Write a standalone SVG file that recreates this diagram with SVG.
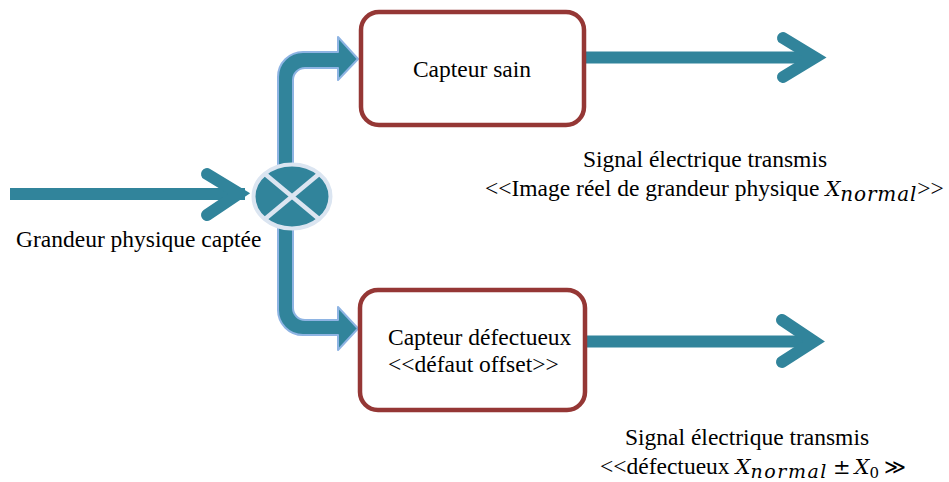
<svg xmlns="http://www.w3.org/2000/svg" width="949" height="482" viewBox="0 0 949 482">
  <style>
    .t { font-family: "Liberation Serif", "Times New Roman", serif; font-size: 23.5px; fill: #000; }
    .m { font-family: "DejaVu Serif", "Liberation Serif", serif; font-style: italic; }
    .mu { font-family: "DejaVu Serif", "Liberation Serif", serif; }
    .box { fill: #fff; stroke: #953735; stroke-width: 4.5; }
    .shaft { fill: none; stroke: #31849b; stroke-width: 12; }
    .chev { fill: none; stroke: #31849b; stroke-width: 12; stroke-linecap: round; stroke-linejoin: miter; }
    .branch { fill: #31849b; stroke: #8eb4e3; stroke-width: 2; stroke-linejoin: round; }
  </style>
  <rect width="949" height="482" fill="#fff"/>

  <g id="connectors">
    <line class="shaft" x1="10" y1="194" x2="245" y2="194"/>
    <polyline class="chev" points="207,174 239,193.5 207,215"/>
    <path class="branch" d="M 278 170 L 278 77 A 25 25 0 0 1 303 52 L 338 52 L 338 37 L 358 59 L 338 80 L 338 68 L 305 68 A 12 12 0 0 0 293 80 L 293 170 Z"/>
    <path class="branch" d="M 278 225 L 278 310 A 25 25 0 0 0 303 335 L 338 335 L 338 350 L 358 328.5 L 338 307 L 338 320 L 305 320 A 12 12 0 0 1 293 308 L 293 225 Z"/>
    <line class="shaft" x1="585" y1="57.5" x2="812" y2="57.5"/>
    <polyline class="chev" points="783,38 815,57.5 783,77"/>
    <line class="shaft" x1="585" y1="341.5" x2="811" y2="341.5"/>
    <polyline class="chev" points="782,320 814,341.5 782,362"/>
  </g>

  <g id="junction">
    <ellipse cx="292" cy="196.5" rx="38.5" ry="32" fill="#31849b" stroke="#dbe5f1" stroke-width="4"/>
    <line x1="265" y1="174" x2="319" y2="219" stroke="#dbe5f1" stroke-width="4.5"/>
    <line x1="319" y1="174" x2="265" y2="219" stroke="#dbe5f1" stroke-width="4.5"/>
  </g>

  <g id="input-label">
    <text class="t" x="16" y="247">Grandeur physique captée</text>
  </g>

  <g id="capteur-sain">
    <rect class="box" x="361" y="12" width="223" height="113" rx="18"/>
    <text class="t" x="472" y="77" text-anchor="middle">Capteur sain</text>
  </g>

  <g id="capteur-defectueux">
    <rect class="box" x="360" y="290" width="225" height="120" rx="18"/>
    <text class="t" x="388" y="345">Capteur défectueux</text>
    <text class="t" x="388" y="372">&lt;&lt;défaut offset&gt;&gt;</text>
  </g>

  <g id="sortie-saine">
    <text class="t" x="583" y="167">Signal électrique transmis</text>
    <text class="t" x="485" y="196">&lt;&lt;Image réel de grandeur physique <tspan class="m" font-size="21">X</tspan><tspan class="m" dy="5" font-size="20" textLength="76" lengthAdjust="spacing">normal</tspan><tspan dy="-5">&gt;&gt;</tspan></text>
  </g>

  <g id="sortie-defectueuse">
    <text class="t" x="625" y="445">Signal électrique transmis</text>
    <text class="t" x="600" y="474">&lt;&lt;défectueux <tspan class="m" font-size="21">X</tspan><tspan class="m" dy="3.5" font-size="19" textLength="76" lengthAdjust="spacing">normal</tspan><tspan class="mu" dx="5" dy="-3.5" font-size="21">±</tspan><tspan class="m" dx="4" font-size="21">X</tspan><tspan class="mu" dy="3.5" font-size="15">0</tspan><tspan class="mu" dx="5" dy="-3.5" font-size="21">≫</tspan></text>
  </g>
</svg>
